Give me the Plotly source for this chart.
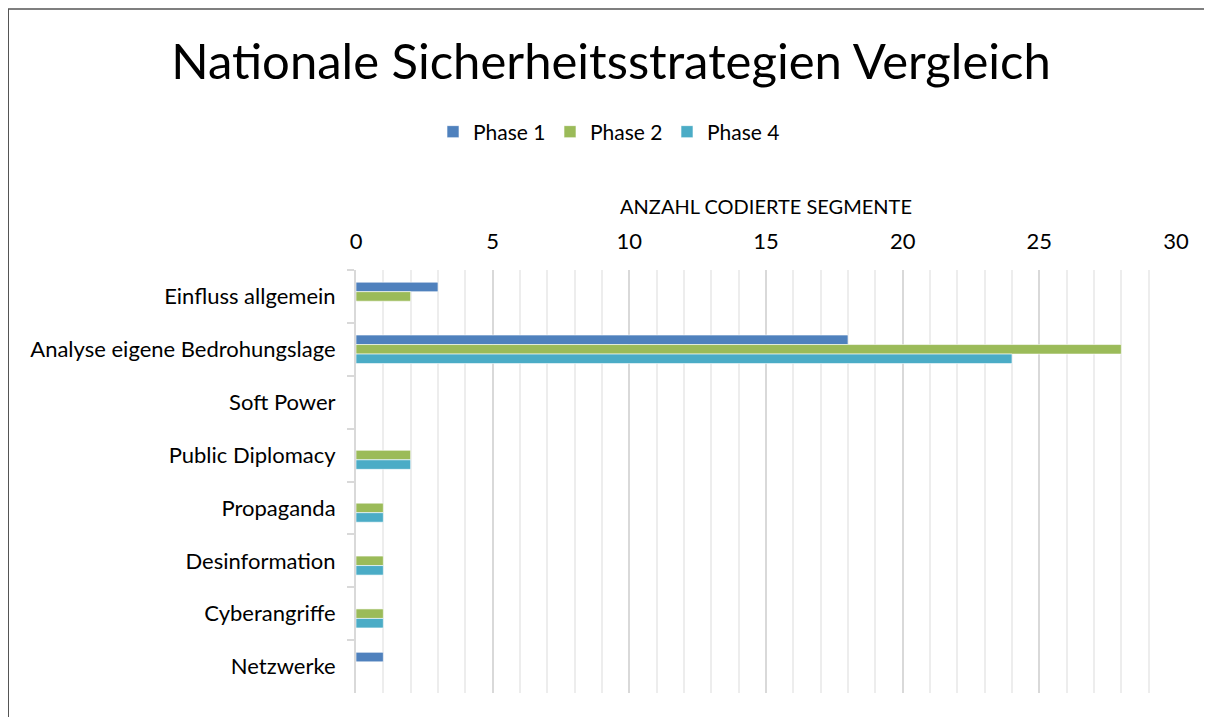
import plotly.graph_objects as go

categories = ["Einfluss allgemein", "Analyse eigene Bedrohungslage", "Soft Power",
              "Public Diplomacy", "Propaganda", "Desinformation", "Cyberangriffe", "Netzwerke"]
phase1 = [3, 18, 0, 0, 0, 0, 0, 1]
phase2 = [2, 28, 0, 2, 1, 1, 1, 0]
phase4 = [0, 24, 0, 2, 1, 1, 1, 0]
series_names = ["Phase 1", "Phase 2", "Phase 4"]
colors = ["#4F81BD", "#9BBB59", "#4BACC6"]

OFF = 8  # page body margin
W, H = 1212 - OFF, 717 - OFF
L, R, T, B = 356 - OFF, 1176 - OFF, 270 - OFF, 693 - OFF
FONT = "Lato"

fig = go.Figure()
for name, vals, c in zip(series_names, [phase1, phase2, phase4], colors):
    fig.add_trace(go.Bar(
        y=categories, x=vals, name=name, orientation="h",
        marker=dict(color=c, line=dict(color="rgba(255,255,255,0.6)", width=1)),
    ))

pw, ph = R - L, B - T
def px(x):
    return (x - OFF - L) / pw
def py(y):
    return 1 - (y - OFF - T) / ph

fig.update_layout(
    width=W, height=H,
    margin=dict(l=L, r=W - R, t=T, b=H - B),
    paper_bgcolor="white", plot_bgcolor="white",
    barmode="group", bargap=0.46, bargroupgap=0,
    font=dict(family=FONT, color="#000000", size=21),
    title=dict(text="Nationale Sicherheitsstrategien Vergleich", x=(611 - OFF) / W, xref="container",
               y=1 - (62 - OFF) / H, yref="container", xanchor="center", yanchor="middle",
               font=dict(family=FONT, size=49, color="#000000")),
    legend=dict(orientation="h", x=px(433), xanchor="left", y=py(132), yanchor="middle",
                font=dict(family=FONT, size=21, color="#000000"),
                entrywidth=72, entrywidthmode="pixels", traceorder="normal"),
    xaxis=dict(side="top", range=[0, 30], dtick=5, tick0=0,
               showgrid=True, gridcolor="#D9D9D9", gridwidth=2,
               minor=dict(dtick=1, showgrid=True, gridcolor="#EDEDED", gridwidth=2),
               zeroline=False, showline=False, ticks="", ticklabelstandoff=16,
               tickfont=dict(family=FONT, size=22, color="#000000"),
               title=dict(text="ANZAHL CODIERTE SEGMENTE", standoff=6,
                          font=dict(family=FONT, size=20, color="#000000"))),
    yaxis=dict(autorange="reversed", showline=True, linecolor="#D9D9D9", linewidth=2,
               ticks="outside", tickson="boundaries", ticklen=7, tickcolor="#D9D9D9", tickwidth=2,
               showgrid=False, ticklabelstandoff=14,
               tickfont=dict(family=FONT, size=22, color="#000000")),
    shapes=[
        dict(type="line", xref="paper", yref="paper", x0=px(8), x1=px(8), y0=py(9), y1=py(717),
             line=dict(color="#555555", width=2)),
        dict(type="line", xref="paper", yref="paper", x0=px(8), x1=px(1212), y0=py(9), y1=py(9),
             line=dict(color="#555555", width=1.5)),
    ],
)

fig.write_html("out.html")
